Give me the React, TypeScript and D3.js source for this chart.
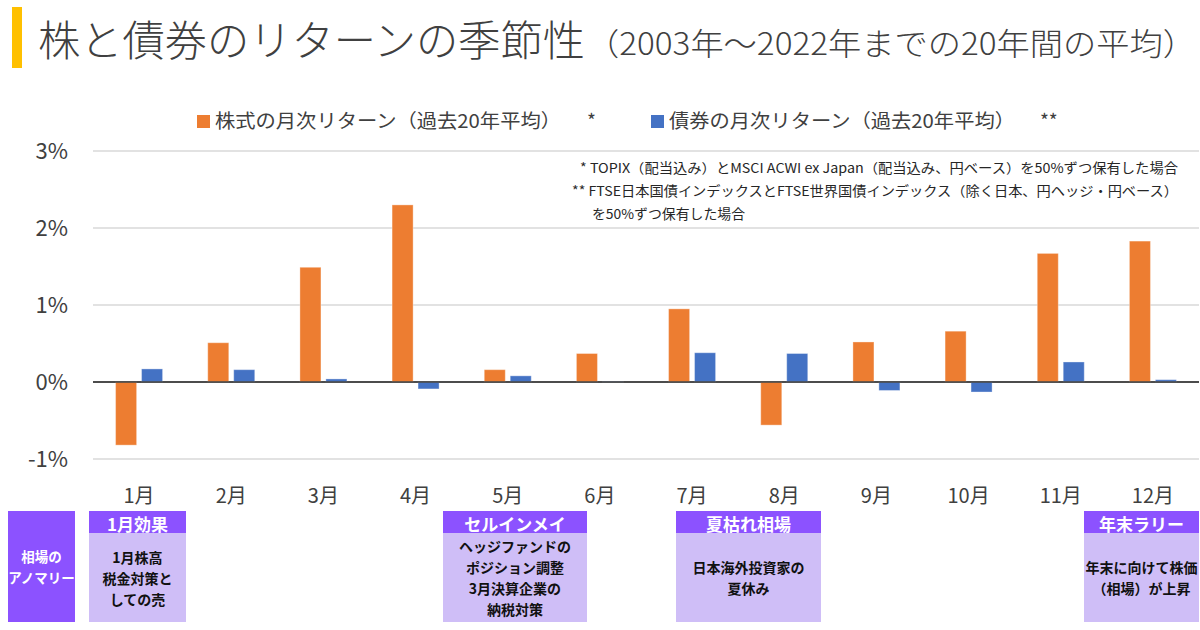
import React from "react";
import * as d3 from "d3";

const months = ["1月", "2月", "3月", "4月", "5月", "6月", "7月", "8月", "9月", "10月", "11月", "12月"];
const stockReturns = [-0.82, 0.51, 1.49, 2.3, 0.16, 0.37, 0.95, -0.56, 0.52, 0.66, 1.67, 1.83];
const bondReturns = [0.17, 0.16, 0.04, -0.09, 0.08, 0.005, 0.38, 0.37, -0.11, -0.13, 0.26, 0.03];
const yTicks = [-1, 0, 1, 2, 3];
const seriesNames = ["株式の月次リターン（過去20年平均）", "債券の月次リターン（過去20年平均）"];
const seriesMarks = ["*", "**"];
const seriesKeys = ["stock", "bond"];
const noteLines = [
  "* TOPIX（配当込み）とMSCI ACWI ex Japan（配当込み、円ベース）を50%ずつ保有した場合",
  "** FTSE日本国債インデックスとFTSE世界国債インデックス（除く日本、円ヘッジ・円ベース）",
  "を50%ずつ保有した場合",
];
const titleMain = "株と債券のリターンの季節性";
const titleSub = "（2003年～2022年までの20年間の平均）";
const anomalyRowLabel = ["相場の", "アノマリー"];
const anomalyTitles = ["1月効果", "セルインメイ", "夏枯れ相場", "年末ラリー"];
const anomalyBodies = [
  ["1月株高", "税金対策と", "しての売"],
  ["ヘッジファンドの", "ポジション調整", "3月決算企業の", "納税対策"],
  ["日本海外投資家の", "夏休み"],
  ["年末に向けて株価", "（相場）が上昇"],
];

// layout (not data)
const W = 1200;
const H = 630;
const plot = { left: 93, right: 1199, top: 151, bottom: 459 };
const anomalyBoxes = [
  { x: 89, w: 97 },
  { x: 443, w: 144 },
  { x: 676, w: 145 },
  { x: 1084, w: 115 },
];
const boxTop = 511;
const boxBottom = 622;
const headerH = 22;
const FONT = "'Noto Sans CJK JP', 'Noto Sans', sans-serif";
const ORANGE = "#ED7D31";
const BLUE = "#4472C4";
const PURPLE = "#8C52FF";
const LAVENDER = "#CFBEF7";

export default function App() {
  const x0 = d3.scaleBand<string>().domain(months).range([plot.left, plot.right]).paddingInner(0).paddingOuter(0);
  const bw = x0.bandwidth();
  const x1 = d3
    .scaleBand<string>()
    .domain(seriesKeys)
    .range([bw / 2 - 23.5, bw / 2 + 23.5])
    .paddingInner(0.19)
    .paddingOuter(0);
  const y = d3.scaleLinear().domain([-1, 3]).range([plot.bottom, plot.top]);
  const fmt = (v: number) => `${v}%`;

  const seriesValues = [stockReturns, bondReturns];
  const colors = [ORANGE, BLUE];

  return (
    <svg
      width={W}
      height={H}
      viewBox={`0 0 ${W} ${H}`}
      style={{ position: "absolute", left: 0, top: 0, background: "#fff" }}
      fontFamily={FONT}
    >
      <rect x={0} y={0} width={W} height={H} fill="#fff" />
      {/* Title */}
      <rect x={12} y={7} width={10} height={61} fill="#FFC000" />
      <text x={38} y={56} fontSize={42} fontWeight={300} fill="#404040" textLength={547} lengthAdjust="spacingAndGlyphs">
        {titleMain}
      </text>
      <text x={586} y={55} fontSize={31} fontWeight={300} fill="#404040" textLength={610} lengthAdjust="spacingAndGlyphs">
        {titleSub}
      </text>

      {/* Legend */}
      {[0, 1].map((i) => {
        const lx = i === 0 ? 197 : 651;
        return (
          <g key={i}>
            <rect x={lx} y={115} width={13} height={13} fill={colors[i]} />
            <text x={lx + 18} y={128} fontSize={19} fill="#404040" textLength={346} lengthAdjust="spacingAndGlyphs">
              {seriesNames[i]}
            </text>
            <text x={lx + (i === 0 ? 390 : 389)} y={128} fontSize={19} fill="#404040">
              {seriesMarks[i]}
            </text>
          </g>
        );
      })}

      {/* Gridlines */}
      {yTicks.map((t) => (
        <line
          key={t}
          x1={plot.left}
          x2={plot.right}
          y1={y(t)}
          y2={y(t)}
          stroke={t === 0 ? "#404040" : "#D9D9D9"}
          strokeWidth={1.5}
        />
      ))}
      {yTicks.map((t) => (
        <text key={"yl" + t} x={68} y={y(t) + 8} fontSize={22} fill="#404040" textAnchor="end">
          {fmt(t)}
        </text>
      ))}

      {/* Notes */}
      <text x={580} y={173} fontSize={13.5} fill="#262626" textLength={598} lengthAdjust="spacingAndGlyphs">
        {noteLines[0]}
      </text>
      <text x={572} y={196} fontSize={13.5} fill="#262626" textLength={606} lengthAdjust="spacingAndGlyphs">
        {noteLines[1]}
      </text>
      <text x={592} y={219} fontSize={13.5} fill="#262626" textLength={153} lengthAdjust="spacingAndGlyphs">
        {noteLines[2]}
      </text>

      {/* Bars */}
      {months.map((m, mi) => (
        <g key={m} transform={`translate(${x0(m)},0)`}>
          {seriesKeys.map((k, si) => {
            const v = seriesValues[si][mi];
            const yTop = y(Math.max(0, v));
            const yBot = y(Math.min(0, v));
            return (
              <rect
                key={k}
                x={x1(k)}
                y={yTop}
                width={x1.bandwidth()}
                height={Math.max(0.5, yBot - yTop)}
                fill={colors[si]}
                stroke="rgba(255,255,255,0.35)"
                strokeWidth={1}
              />
            );
          })}
        </g>
      ))}
      <line x1={plot.left} x2={plot.right} y1={y(0)} y2={y(0)} stroke="#404040" strokeWidth={1.5} />

      {/* X labels */}
      {months.map((m) => (
        <text key={"xl" + m} x={(x0(m) as number) + bw / 2} y={503} fontSize={20} fill="#404040" textAnchor="middle">
          {m}
        </text>
      ))}

      {/* Anomaly row */}
      <rect x={8} y={boxTop} width={67} height={boxBottom - boxTop} fill={PURPLE} />
      {anomalyRowLabel.map((t, i) => (
        <text
          key={t}
          x={41.5}
          y={(boxTop + boxBottom) / 2 + (i - (anomalyRowLabel.length - 1) / 2) * 21}
          fontSize={13.5}
          fontWeight={700}
          fill="#fff"
          textAnchor="middle"
          dominantBaseline="central"
        >
          {t}
        </text>
      ))}
      {anomalyBoxes.map((b, i) => {
        const bodyTop = boxTop + headerH;
        const cy = (bodyTop + boxBottom) / 2;
        const lines = anomalyBodies[i];
        return (
          <g key={i}>
            <rect x={b.x} y={bodyTop} width={b.w} height={boxBottom - bodyTop} fill={LAVENDER} />
            <rect x={b.x} y={boxTop} width={b.w} height={headerH} fill={PURPLE} />
            <text
              x={b.x + b.w / 2}
              y={boxTop + headerH / 2 + 1}
              fontSize={17}
              fontWeight={700}
              fill="#fff"
              textAnchor="middle"
              dominantBaseline="central"
            >
              {anomalyTitles[i]}
            </text>
            {lines.map((t, li) => (
              <text
                key={li}
                x={b.x + b.w / 2}
                y={cy + (li - (lines.length - 1) / 2) * 21}
                fontSize={14}
                fontWeight={700}
                fill="#111"
                textAnchor="middle"
                dominantBaseline="central"
              >
                {t}
              </text>
            ))}
          </g>
        );
      })}
    </svg>
  );
}
